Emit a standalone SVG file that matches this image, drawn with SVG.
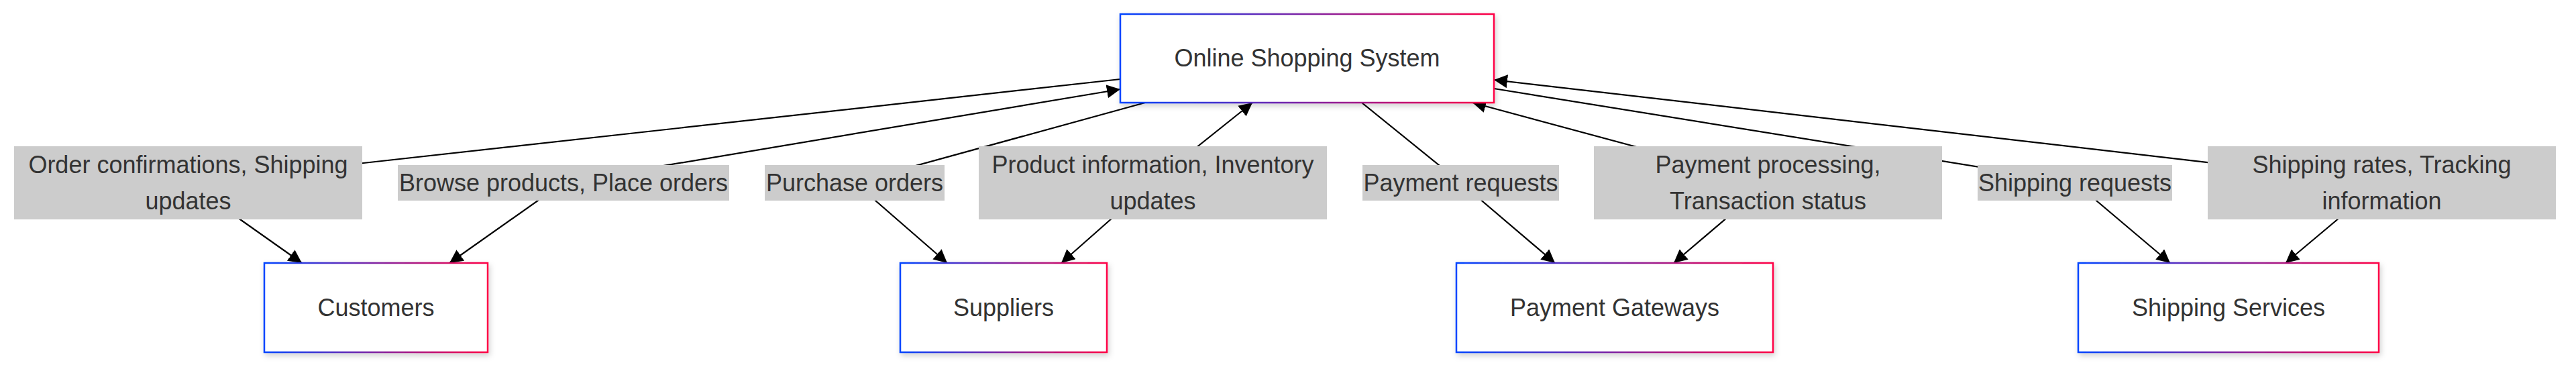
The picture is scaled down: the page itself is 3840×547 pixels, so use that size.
<svg xmlns="http://www.w3.org/2000/svg" width="3840" height="547" viewBox="0 0 3840 547">
  <style>
    .node rect { fill: #ffffff; stroke: url(#grad); stroke-width: 2.5; filter: url(#shadow); }
    .node text { font-family: "Liberation Sans", Arial, sans-serif; font-size: 36px; fill: #333333; text-anchor: middle; }
    .edge { fill: none; stroke: #000000; stroke-width: 2.2; }
    .lbl rect { fill: #cccccc; }
    .lbl text { font-family: "Liberation Sans", Arial, sans-serif; font-size: 36px; fill: #333333; text-anchor: middle; }
  </style>
  <defs>
    <linearGradient id="grad" x1="0" y1="0" x2="1" y2="0">
      <stop offset="0" stop-color="#0044ff"/>
      <stop offset="1" stop-color="#ff0044"/>
    </linearGradient>
    <filter id="shadow" x="-10%" y="-20%" width="120%" height="150%">
      <feDropShadow dx="2" dy="4" stdDeviation="4" flood-color="#000000" flood-opacity="0.18"/>
    </filter>
    <marker id="arr" viewBox="0 0 20 20" refX="20" refY="10" markerWidth="20" markerHeight="20" markerUnits="userSpaceOnUse" orient="auto-start-reverse">
      <path d="M0,0 L20,10 L0,20 z" fill="#000000"/>
    </marker>
  </defs>
  <rect x="0" y="0" width="3840" height="547" fill="#ffffff"/>

  <g id="connectors">
    <path class="edge" d="M1670,118 L280,272 L450,392" marker-end="url(#arr)"/>
    <path class="edge" d="M670,392 L840,272 L1670,133" marker-start="url(#arr)" marker-end="url(#arr)"/>
    <path class="edge" d="M1707,153 L1274,272 L1412,392" marker-end="url(#arr)"/>
    <path class="edge" d="M1582,392 L1718,272 L1867,153" marker-start="url(#arr)" marker-end="url(#arr)"/>
    <path class="edge" d="M2030,153 L2177,272 L2318,392" marker-end="url(#arr)"/>
    <path class="edge" d="M2495,392 L2636,272 L2195,153" marker-start="url(#arr)" marker-end="url(#arr)"/>
    <path class="edge" d="M2227,132 L3093,272 L3235,392" marker-end="url(#arr)"/>
    <path class="edge" d="M3407,392 L3550,272 L2227,119" marker-start="url(#arr)" marker-end="url(#arr)"/>
  </g>

  <g id="edge-labels">
    <g class="lbl" id="label-order-confirmations">
      <rect x="21" y="218" width="519" height="109"/>
      <text x="280.5" y="258">Order confirmations, Shipping</text>
      <text x="280.5" y="312">updates</text>
    </g>
    <g class="lbl" id="label-browse">
      <rect x="593" y="246" width="494" height="53"/>
      <text x="840" y="285">Browse products, Place orders</text>
    </g>
    <g class="lbl" id="label-purchase">
      <rect x="1140" y="246" width="268" height="53"/>
      <text x="1274" y="285">Purchase orders</text>
    </g>
    <g class="lbl" id="label-product-info">
      <rect x="1459" y="218" width="519" height="109"/>
      <text x="1718.5" y="258">Product information, Inventory</text>
      <text x="1718.5" y="312">updates</text>
    </g>
    <g class="lbl" id="label-payment-requests">
      <rect x="2031" y="246" width="293" height="53"/>
      <text x="2177.5" y="285">Payment requests</text>
    </g>
    <g class="lbl" id="label-payment-processing">
      <rect x="2376" y="218" width="519" height="109"/>
      <text x="2635.5" y="258">Payment processing,</text>
      <text x="2635.5" y="312">Transaction status</text>
    </g>
    <g class="lbl" id="label-shipping-requests">
      <rect x="2948" y="246" width="290" height="53"/>
      <text x="3093" y="285">Shipping requests</text>
    </g>
    <g class="lbl" id="label-shipping-rates">
      <rect x="3291" y="218" width="519" height="109"/>
      <text x="3550.5" y="258">Shipping rates, Tracking</text>
      <text x="3550.5" y="312">information</text>
    </g>
  </g>

  <g class="node" id="node-oss">
    <rect x="1670" y="21" width="557" height="132"/>
    <text x="1948.5" y="99">Online Shopping System</text>
  </g>
  <g class="node" id="node-customers">
    <rect x="394" y="392" width="333" height="133"/>
    <text x="560.5" y="471">Customers</text>
  </g>
  <g class="node" id="node-suppliers">
    <rect x="1342" y="392" width="308" height="133"/>
    <text x="1496" y="471">Suppliers</text>
  </g>
  <g class="node" id="node-payment-gateways">
    <rect x="2171" y="392" width="472" height="133"/>
    <text x="2407" y="471">Payment Gateways</text>
  </g>
  <g class="node" id="node-shipping-services">
    <rect x="3098" y="392" width="448" height="133"/>
    <text x="3322" y="471">Shipping Services</text>
  </g>
</svg>
